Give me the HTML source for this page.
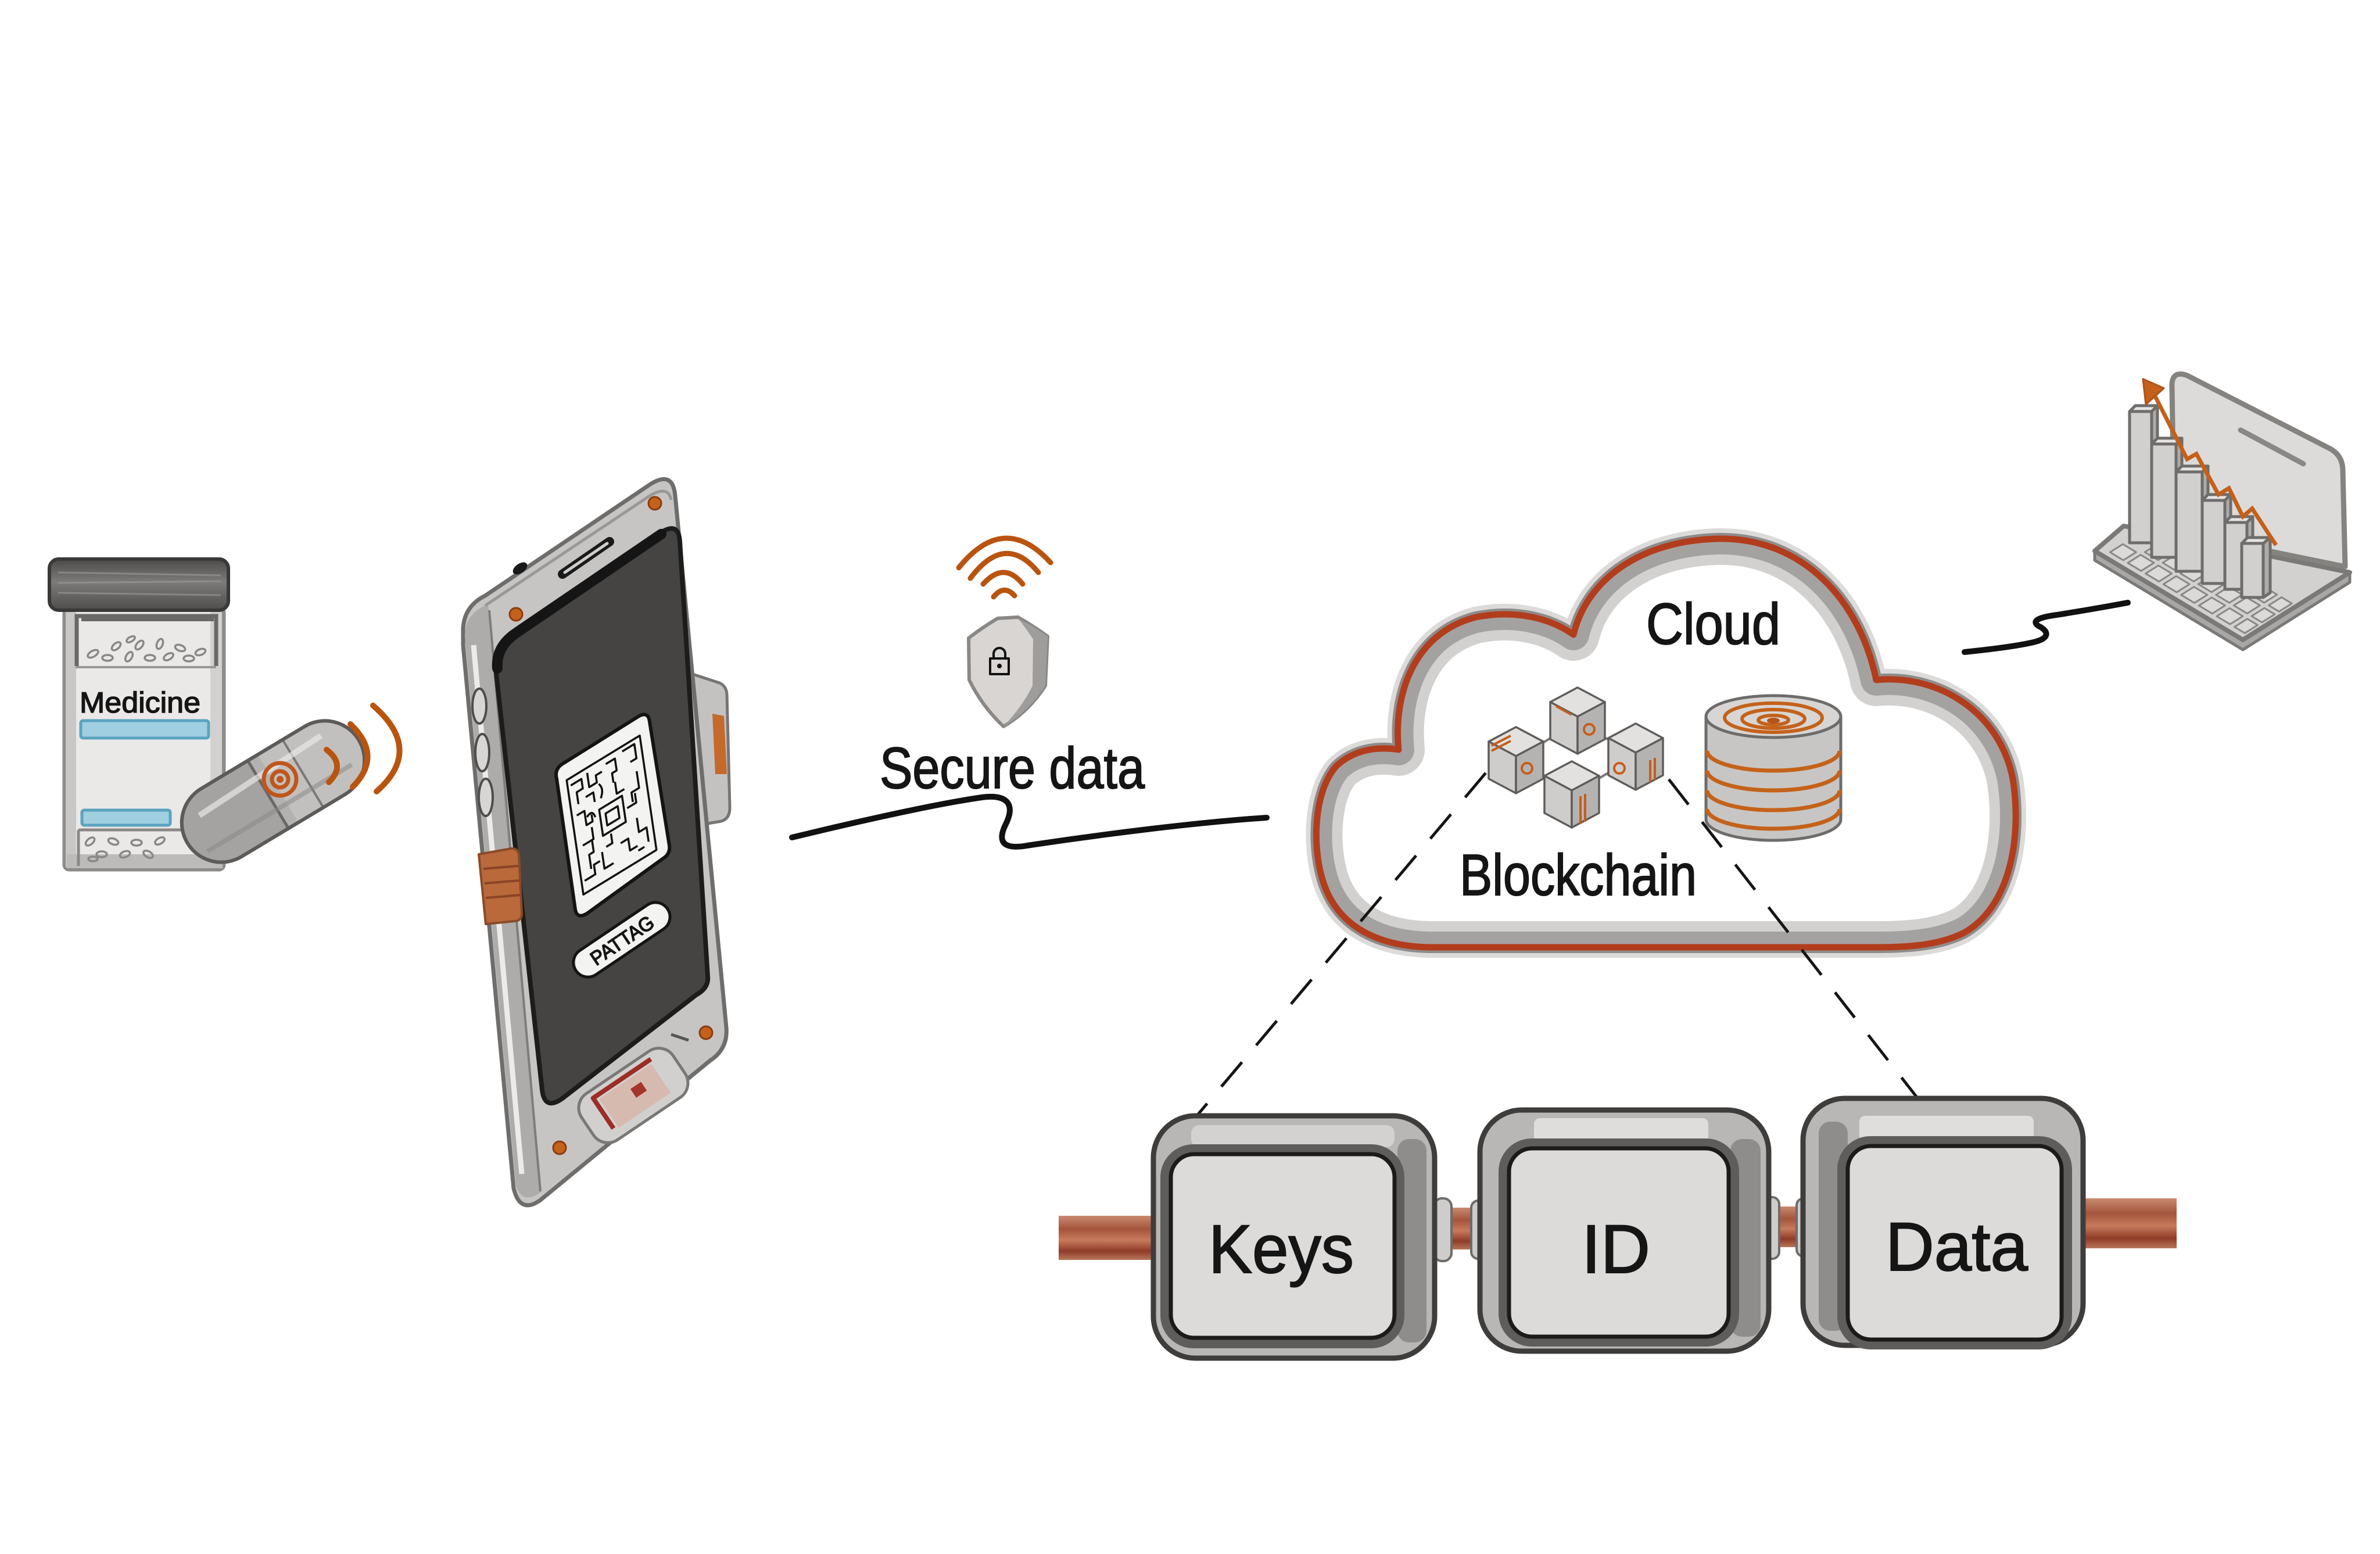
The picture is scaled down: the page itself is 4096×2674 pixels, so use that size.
<!DOCTYPE html>
<html>
<head>
<meta charset="utf-8">
<style>
html,body{margin:0;padding:0;background:#ffffff;}
svg{display:block;}
.t{font-family:"Liberation Sans","DejaVu Sans",sans-serif;fill:#151515;stroke:#151515;stroke-width:2px;}
</style>
</head>
<body>
<svg width="4096" height="2674" viewBox="0 0 4096 2674" xmlns="http://www.w3.org/2000/svg">
<defs>
  <linearGradient id="capg" x1="0" y1="0" x2="0" y2="1">
    <stop offset="0" stop-color="#4b4a49"/>
    <stop offset="0.45" stop-color="#7d7b79"/>
    <stop offset="1" stop-color="#4e4d4c"/>
  </linearGradient>
  <linearGradient id="rodg" x1="0" y1="0" x2="0" y2="1">
    <stop offset="0" stop-color="#c98a70"/>
    <stop offset="0.3" stop-color="#a4553c"/>
    <stop offset="0.55" stop-color="#c77a5c"/>
    <stop offset="0.8" stop-color="#8f3b28"/>
    <stop offset="1" stop-color="#b8765c"/>
  </linearGradient>
  <clipPath id="cloudclip">
    <path d="M 2458,1630 C 2380,1628 2300,1600 2275,1510 C 2258,1450 2262,1360 2300,1318 C 2330,1290 2370,1284 2407,1290 C 2398,1200 2430,1090 2540,1062 C 2610,1048 2670,1065 2708,1092 C 2730,1000 2820,930 2958,927 C 3100,925 3200,1030 3229,1170 C 3330,1160 3440,1220 3464,1340 C 3480,1440 3460,1560 3380,1605 C 3340,1625 3290,1630 3233,1630 Z"/>
  </clipPath>
</defs>

<rect width="4096" height="2674" fill="#ffffff"/>

<!-- ============ MEDICINE BOTTLE ============ -->
<g>
  <rect x="111" y="1046" width="274" height="450" rx="8" fill="#ebe9e7" stroke="#8e8c8a" stroke-width="7"/>
  <rect x="113" y="1050" width="18" height="442" fill="#c9c7c5"/>
  <rect x="362" y="1050" width="20" height="442" fill="#d3d1cf"/>
  <rect x="115" y="1470" width="268" height="24" fill="#bdbbb9"/>
  <path d="M 132,1146 L 132,1060 L 372,1060 L 372,1146" fill="none" stroke="#6a6866" stroke-width="7"/>
  <line x1="140" y1="1064" x2="368" y2="1064" stroke="#6a6866" stroke-width="10"/>
  <g fill="none" stroke="#8a8886" stroke-width="3.5">
    <ellipse cx="160" cy="1125" rx="10" ry="5" transform="rotate(-30 160 1125)"/>
    <ellipse cx="185" cy="1132" rx="9" ry="5"/>
    <ellipse cx="200" cy="1112" rx="9" ry="5" transform="rotate(-40 200 1112)"/>
    <ellipse cx="222" cy="1130" rx="9" ry="5" transform="rotate(-60 222 1130)"/>
    <ellipse cx="240" cy="1110" rx="9" ry="5" transform="rotate(-50 240 1110)"/>
    <ellipse cx="258" cy="1132" rx="9" ry="5"/>
    <ellipse cx="275" cy="1108" rx="9" ry="5" transform="rotate(-70 275 1108)"/>
    <ellipse cx="290" cy="1130" rx="9" ry="5" transform="rotate(-30 290 1130)"/>
    <ellipse cx="310" cy="1115" rx="9" ry="5" transform="rotate(20 310 1115)"/>
    <ellipse cx="325" cy="1133" rx="9" ry="5"/>
    <ellipse cx="345" cy="1122" rx="9" ry="5" transform="rotate(-20 345 1122)"/>
    <ellipse cx="225" cy="1100" rx="8" ry="4" transform="rotate(-30 225 1100)"/>
  </g>
  <line x1="130" y1="1148" x2="372" y2="1148" stroke="#9a9896" stroke-width="4"/>
  <rect x="85" y="962" width="308" height="88" rx="16" fill="url(#capg)" stroke="#3a3938" stroke-width="6"/>
  <g stroke="#9d9b99" stroke-width="3" opacity="0.6">
    <line x1="100" y1="985" x2="380" y2="990"/>
    <line x1="100" y1="1003" x2="380" y2="1000"/>
    <line x1="100" y1="1020" x2="380" y2="1024"/>
  </g>
  <text x="137" y="1226" font-size="50" textLength="208" lengthAdjust="spacingAndGlyphs" class="t" style="stroke-width:1.5px">Medicine</text>
  <rect x="139" y="1240" width="220" height="30" rx="4" fill="#9fcfe0" stroke="#5aa3c0" stroke-width="5"/>
  <rect x="141" y="1394" width="152" height="26" rx="4" fill="#9fcfe0" stroke="#5aa3c0" stroke-width="5"/>
  <path d="M 135,1428 L 135,1490 M 135,1428 L 320,1428" fill="none" stroke="#8a8886" stroke-width="5"/>
  <g fill="none" stroke="#8a8886" stroke-width="3.5">
    <ellipse cx="155" cy="1448" rx="9" ry="5" transform="rotate(-40 155 1448)"/>
    <ellipse cx="175" cy="1470" rx="9" ry="5"/>
    <ellipse cx="195" cy="1448" rx="9" ry="5" transform="rotate(20 195 1448)"/>
    <ellipse cx="215" cy="1470" rx="9" ry="5" transform="rotate(-20 215 1470)"/>
    <ellipse cx="235" cy="1450" rx="9" ry="5"/>
    <ellipse cx="255" cy="1470" rx="9" ry="5" transform="rotate(30 255 1470)"/>
    <ellipse cx="275" cy="1447" rx="9" ry="5" transform="rotate(-30 275 1447)"/>
    <ellipse cx="160" cy="1478" rx="8" ry="4"/>
  </g>
</g>

<!-- ============ PILL CAPSULE ============ -->
<g transform="translate(470,1362) rotate(-31)">
  <rect x="-172" y="-68" width="344" height="136" rx="68" fill="#b4b2b0" stroke="#5d5b59" stroke-width="6"/>
  <path d="M -10,-66 L -104,-66 A 66 66 0 0 0 -104,66 L -10,66 Z" fill="#a5a3a1"/>
  <path d="M 10,-66 L 104,-66 A 66 66 0 0 1 104,66 L 10,66 Z" fill="#c2c0be"/>
  <line x1="-10" y1="-66" x2="-10" y2="66" stroke="#6a6866" stroke-width="5"/>
  <line x1="60" y1="-66" x2="60" y2="66" stroke="#7a7876" stroke-width="4"/>
  <path d="M -130,-30 L 120,-40" stroke="#e9e8e6" stroke-width="10" opacity="0.7"/>
  <path d="M -150,30 L 140,30" stroke="#8a8886" stroke-width="8" opacity="0.5"/>
  <rect x="-172" y="-68" width="344" height="136" rx="68" fill="none" stroke="#5d5b59" stroke-width="6"/>
</g>
<g fill="none" stroke="#c0561a" stroke-width="7" stroke-linecap="round">
  <circle cx="482" cy="1341" r="28"/>
  <circle cx="482" cy="1341" r="14"/>
</g>
<circle cx="482" cy="1341" r="6" fill="#c0561a"/>
<g fill="none" stroke="#b9540f" stroke-width="10" stroke-linecap="round">
  <path d="M 562,1290 Q 596,1316 566,1346"/>
  <path d="M 603,1246 Q 660,1300 607,1354"/>
  <path d="M 642,1214 Q 730,1290 648,1362"/>
</g>

<!-- ============ PHONE ============ -->
<g stroke-linejoin="round">
  <path d="M 1192,1160 L 1238,1175 Q 1250,1180 1251,1195 L 1256,1390 Q 1256,1412 1236,1414 L 1212,1418 Z" fill="#c4c2c0" stroke="#777573" stroke-width="5"/>
  <path d="M 1226,1228 L 1246,1232 L 1251,1332 L 1231,1332 Z" fill="#c5692d"/>
  <path d="M 797,1090 Q 795,1045 835,1025 L 1118,834 Q 1158,808 1162,853 L 1250,1768 Q 1253,1805 1222,1825 L 930,2065 Q 895,2090 884,2045 L 797,1110 Z" fill="#c7c5c3" stroke="#6f6d6b" stroke-width="7"/>
  <path d="M 800,1095 Q 800,1055 840,1040 L 932,2050 Q 900,2075 888,2040 Z" fill="#aeacaa"/>
  <line x1="815" y1="1110" x2="898" y2="2020" stroke="#ecebe9" stroke-width="9"/>
  <line x1="842" y1="1050" x2="930" y2="2050" stroke="#7f7d7b" stroke-width="4"/>
  <path d="M 835,1042 L 1120,852 Q 1150,835 1155,860" fill="none" stroke="#9a9896" stroke-width="5"/>
  <path d="M 853,1150 Q 850,1110 890,1085 L 1138,916 Q 1168,897 1170,932 L 1218,1680 Q 1220,1700 1198,1712 L 968,1890 Q 937,1912 933,1875 Z" fill="#464442" stroke="#1c1c1c" stroke-width="8"/>
  <path d="M 856,1150 Q 853,1112 890,1088 L 1138,919" fill="none" stroke="#151515" stroke-width="18" stroke-linecap="round"/>
  <line x1="968" y1="988" x2="1049" y2="932" stroke="#1a1a1a" stroke-width="16" stroke-linecap="round"/>
  <line x1="972" y1="985" x2="1045" y2="935" stroke="#d0cecc" stroke-width="5" stroke-linecap="round"/>
  <ellipse cx="895" cy="978" rx="14" ry="8" transform="rotate(-35 895 978)" fill="#1a1a1a"/>
  <g fill="#c4621c" stroke="#8a3c10" stroke-width="3">
    <circle cx="1127" cy="866" r="11"/>
    <circle cx="888" cy="1057" r="11"/>
    <circle cx="1215" cy="1777" r="11"/>
    <circle cx="963" cy="1975" r="11"/>
  </g>
  <g fill="#d8d6d4" stroke="#4f4d4b" stroke-width="4">
    <ellipse cx="825" cy="1215" rx="12" ry="30"/>
    <ellipse cx="830" cy="1295" rx="12" ry="32"/>
    <ellipse cx="836" cy="1372" rx="12" ry="32"/>
  </g>
  <path d="M 824,1470 L 880,1460 Q 892,1460 893,1472 L 898,1572 Q 898,1584 886,1585 L 836,1590 Z" fill="#b9693a" stroke="#8a4a28" stroke-width="4"/>
  <g stroke="#8a4424" stroke-width="4">
    <line x1="832" y1="1495" x2="892" y2="1490"/>
    <line x1="834" y1="1520" x2="894" y2="1515"/>
    <line x1="836" y1="1545" x2="896" y2="1540"/>
  </g>
  <path d="M 958,1340 Q 953,1322 972,1312 L 1100,1232 Q 1116,1224 1118,1242 L 1152,1455 Q 1154,1470 1140,1478 L 1010,1572 Q 993,1582 990,1565 Z" fill="#f3f3f1" stroke="#141414" stroke-width="6"/>
  <g transform="matrix(1.31,-0.80,0.30,2.05,972,1340)" fill="none" stroke="#111" stroke-width="3.5">
    <rect x="2" y="2" width="96" height="96" vector-effect="non-scaling-stroke"/>
    <path vector-effect="non-scaling-stroke" d="M6,8 h14 v8 h-8 v10 M28,6 v12 h10 v-6 h8 M52,8 h12 v10 h-6 v8 M74,6 h16 v12 h-8 M8,34 h10 v12 h8 v-6 M88,28 v14 h-10 v8 M10,60 h12 v10 h-6 v12 M6,88 h14 v-8 h8 M32,74 v14 h12 M56,76 h10 v10 h10 M80,64 v12 h10 v12 M22,24 h10 v8 M60,26 v10 h10 M70,52 h12 v-8 M24,50 v10 h-8 M40,20 q6,6 0,12 M84,90 h-8 M46,64 v8 h-8 M20,40 q8,-4 10,4"/>
    <rect x="36" y="40" width="30" height="22" vector-effect="non-scaling-stroke"/>
    <rect x="43" y="46" width="16" height="10" vector-effect="non-scaling-stroke"/>
  </g>
  <g transform="translate(1070,1617) rotate(-34)">
    <rect x="-95" y="-25" width="190" height="50" rx="25" fill="#f3f3f1" stroke="#141414" stroke-width="5"/>
    <text x="-62" y="13" font-size="34" textLength="124" lengthAdjust="spacingAndGlyphs" class="t" style="stroke-width:1.5px">PATTAG</text>
  </g>
  <g transform="translate(1090,1885) rotate(-34)">
    <rect x="-95" y="-48" width="190" height="96" rx="30" fill="#d2d0ce" stroke="#7a7876" stroke-width="5"/>
    <path d="M 60,-35 L -60,-35 L -60,28" fill="none" stroke="#9c2e26" stroke-width="8"/>
    <rect x="-52" y="-28" width="108" height="60" fill="#d9a898" opacity="0.55"/>
    <rect x="2" y="-12" width="22" height="18" fill="#a3352a"/>
  </g>
  <line x1="1155" y1="1780" x2="1185" y2="1790" stroke="#555" stroke-width="5"/>
</g>

<!-- ============ SECURE DATA ============ -->
<g fill="none" stroke="#b9540f" stroke-width="9" stroke-linecap="round">
  <path d="M 1650,977 Q 1728,880 1808,968"/>
  <path d="M 1670,995 Q 1730,915 1787,985"/>
  <path d="M 1692,1005 Q 1728,965 1760,1005"/>
  <path d="M 1710,1027 Q 1728,1005 1746,1025"/>
</g>
<g stroke-linejoin="round">
  <path d="M 1667,1098 Q 1690,1080 1717,1064 L 1752,1062 Q 1780,1078 1803,1095 L 1799,1180 Q 1770,1225 1727,1250 Q 1690,1215 1668,1170 Z" fill="#d8d5d2" stroke="#8a8886" stroke-width="6"/>
  <path d="M 1752,1064 Q 1780,1078 1803,1095 L 1799,1180 Q 1770,1225 1727,1250 Q 1760,1215 1777,1180 L 1778,1100 Q 1765,1080 1752,1064 Z" fill="#9f9d9b"/>
  <rect x="1704" y="1133" width="32" height="27" fill="none" stroke="#111" stroke-width="4"/>
  <path d="M 1710,1133 v-8 a 10 10 0 0 1 20 0 v8" fill="none" stroke="#111" stroke-width="4"/>
  <circle cx="1720" cy="1146" r="4" fill="#111"/>
</g>
<text x="1514" y="1356" font-size="100" textLength="456" lengthAdjust="spacingAndGlyphs" class="t">Secure data</text>
<path d="M 1363,1441 C 1450,1420 1600,1385 1690,1372 C 1735,1366 1748,1385 1730,1420 C 1716,1450 1728,1462 1768,1455 C 1900,1435 2060,1415 2180,1407" fill="none" stroke="#111" stroke-width="10" stroke-linecap="round"/>

<!-- ============ CLOUD ============ -->
<g>
  <path d="M 2458,1630 C 2380,1628 2300,1600 2275,1510 C 2258,1450 2262,1360 2300,1318 C 2330,1290 2370,1284 2407,1290 C 2398,1200 2430,1090 2540,1062 C 2610,1048 2670,1065 2708,1092 C 2730,1000 2820,930 2958,927 C 3100,925 3200,1030 3229,1170 C 3330,1160 3440,1220 3464,1340 C 3480,1440 3460,1560 3380,1605 C 3340,1625 3290,1630 3233,1630 Z" fill="#ffffff" stroke="#dddbd9" stroke-width="36" stroke-linejoin="round"/>
  <path d="M 2458,1630 C 2380,1628 2300,1600 2275,1510 C 2258,1450 2262,1360 2300,1318 C 2330,1290 2370,1284 2407,1290 C 2398,1200 2430,1090 2540,1062 C 2610,1048 2670,1065 2708,1092 C 2730,1000 2820,930 2958,927 C 3100,925 3200,1030 3229,1170 C 3330,1160 3440,1220 3464,1340 C 3480,1440 3460,1560 3380,1605 C 3340,1625 3290,1630 3233,1630 Z" fill="none" stroke="#8e8c8a" stroke-width="20" stroke-linejoin="round"/>
  <g clip-path="url(#cloudclip)">
    <path d="M 2458,1630 C 2380,1628 2300,1600 2275,1510 C 2258,1450 2262,1360 2300,1318 C 2330,1290 2370,1284 2407,1290 C 2398,1200 2430,1090 2540,1062 C 2610,1048 2670,1065 2708,1092 C 2730,1000 2820,930 2958,927 C 3100,925 3200,1030 3229,1170 C 3330,1160 3440,1220 3464,1340 C 3480,1440 3460,1560 3380,1605 C 3340,1625 3290,1630 3233,1630 Z" fill="none" stroke="#d3d1cf" stroke-width="90" stroke-linejoin="round"/>
    <path d="M 2458,1630 C 2380,1628 2300,1600 2275,1510 C 2258,1450 2262,1360 2300,1318 C 2330,1290 2370,1284 2407,1290 C 2398,1200 2430,1090 2540,1062 C 2610,1048 2670,1065 2708,1092 C 2730,1000 2820,930 2958,927 C 3100,925 3200,1030 3229,1170 C 3330,1160 3440,1220 3464,1340 C 3480,1440 3460,1560 3380,1605 C 3340,1625 3290,1630 3233,1630 Z" fill="none" stroke="#a4a2a0" stroke-width="54" stroke-linejoin="round"/>
  </g>
  <path d="M 2458,1630 C 2380,1628 2300,1600 2275,1510 C 2258,1450 2262,1360 2300,1318 C 2330,1290 2370,1284 2407,1290 C 2398,1200 2430,1090 2540,1062 C 2610,1048 2670,1065 2708,1092 C 2730,1000 2820,930 2958,927 C 3100,925 3200,1030 3229,1170 C 3330,1160 3440,1220 3464,1340 C 3480,1440 3460,1560 3380,1605 C 3340,1625 3290,1630 3233,1630 Z" fill="none" stroke="#b23d1d" stroke-width="11" stroke-linejoin="round"/>
</g>
<text x="2833" y="1108" font-size="100" textLength="231" lengthAdjust="spacingAndGlyphs" class="t">Cloud</text>
<text x="2512" y="1540" font-size="100" textLength="408" lengthAdjust="spacingAndGlyphs" class="t">Blockchain</text>

<!-- blockchain cubes -->
<g stroke="#7a7876" stroke-width="4">
  <line x1="2715" y1="1240" x2="2609" y2="1308"/>
  <line x1="2715" y1="1240" x2="2815" y2="1302"/>
  <line x1="2609" y1="1308" x2="2705" y2="1367"/>
  <line x1="2815" y1="1302" x2="2705" y2="1367"/>
</g>
<g stroke="#5f5d5b" stroke-width="3.5" stroke-linejoin="round">
  <polygon points="2715,1183 2762,1208 2715,1233 2668,1208" fill="#e3e1df"/>
  <polygon points="2668,1208 2715,1233 2715,1297 2668,1272" fill="#cfcdcb"/>
  <polygon points="2715,1233 2762,1208 2762,1272 2715,1297" fill="#b5b3b1"/>
  <polygon points="2609,1251 2656,1276 2609,1301 2562,1276" fill="#e3e1df"/>
  <polygon points="2562,1276 2609,1301 2609,1365 2562,1340" fill="#cfcdcb"/>
  <polygon points="2609,1301 2656,1276 2656,1340 2609,1365" fill="#b5b3b1"/>
  <polygon points="2815,1245 2862,1270 2815,1295 2768,1270" fill="#e3e1df"/>
  <polygon points="2768,1270 2815,1295 2815,1359 2768,1334" fill="#cfcdcb"/>
  <polygon points="2815,1295 2862,1270 2862,1334 2815,1359" fill="#b5b3b1"/>
  <polygon points="2705,1310 2752,1335 2705,1360 2658,1335" fill="#e3e1df"/>
  <polygon points="2658,1335 2705,1360 2705,1424 2658,1399" fill="#cfcdcb"/>
  <polygon points="2705,1360 2752,1335 2752,1399 2705,1424" fill="#b5b3b1"/>
</g>
<g fill="none" stroke="#c65d1a" stroke-width="4">
  <circle cx="2628" cy="1322" r="9"/>
  <circle cx="2735" cy="1255" r="9"/>
  <circle cx="2787" cy="1322" r="9"/>
  <line x1="2567" y1="1283" x2="2600" y2="1266"/>
  <line x1="2567" y1="1292" x2="2600" y2="1275"/>
  <line x1="2840" y1="1308" x2="2840" y2="1346"/>
  <line x1="2848" y1="1304" x2="2848" y2="1342"/>
  <line x1="2720" y1="1370" x2="2720" y2="1418"/>
  <line x1="2728" y1="1366" x2="2728" y2="1414"/>
  <line x1="2678" y1="1215" x2="2705" y2="1230"/>
</g>

<!-- database cylinder -->
<g stroke-linejoin="round">
  <path d="M 2936,1233 L 2936,1410 A 116 36 0 0 0 3168,1410 L 3168,1233 Z" fill="#c8c6c4" stroke="#6e6c6a" stroke-width="5"/>
  <ellipse cx="3052" cy="1233" rx="116" ry="36" fill="#d8d6d4" stroke="#6e6c6a" stroke-width="5"/>
  <g fill="none" stroke="#c4621a" stroke-width="6">
    <ellipse cx="3052" cy="1235" rx="84" ry="25"/>
    <ellipse cx="3052" cy="1237" rx="54" ry="16"/>
    <ellipse cx="3052" cy="1239" rx="26" ry="8"/>
  </g>
  <ellipse cx="3052" cy="1240" rx="11" ry="5" fill="#b5531a"/>
  <g fill="none" stroke="#c4621a" stroke-width="7">
    <path d="M 2938,1292 A 114 34 0 0 0 3166,1292"/>
    <path d="M 2938,1326 A 114 34 0 0 0 3166,1326"/>
    <path d="M 2938,1360 A 114 34 0 0 0 3166,1360"/>
    <path d="M 2938,1392 A 114 34 0 0 0 3166,1392"/>
  </g>
</g>

<!-- dashed lines -->
<g stroke="#151515" stroke-width="5" stroke-dasharray="55 38" fill="none">
  <line x1="2557" y1="1330" x2="2047" y2="1935"/>
  <line x1="2872" y1="1341" x2="3302" y2="1892"/>
</g>

<!-- ============ BLOCKS ============ -->
<rect x="1822" y="2092" width="180" height="76" fill="url(#rodg)"/>
<rect x="2455" y="2078" width="105" height="72" fill="url(#rodg)"/>
<rect x="3030" y="2076" width="90" height="70" fill="url(#rodg)"/>
<rect x="3570" y="2062" width="176" height="86" fill="url(#rodg)"/>
<g fill="#cfcdcb" stroke="#6e6c6a" stroke-width="4">
  <rect x="2468" y="2062" width="30" height="108" rx="14"/>
  <rect x="2532" y="2066" width="26" height="100" rx="12"/>
  <rect x="3036" y="2060" width="26" height="106" rx="12"/>
  <rect x="3092" y="2062" width="26" height="100" rx="12"/>
</g>

<g>
  <rect x="1985" y="1920" width="484" height="417" rx="72" fill="#b9b7b5" stroke="#3f3d3b" stroke-width="9"/>
  <rect x="2050" y="1936" width="350" height="38" rx="14" fill="#d4d2d0"/>
  <rect x="2405" y="1960" width="50" height="350" rx="20" fill="#8f8d8b"/>
  <rect x="2006" y="1978" width="402" height="333" rx="48" fill="none" stroke="#5f5d5b" stroke-width="18"/>
  <rect x="2015" y="1986" width="385" height="316" rx="40" fill="#dddbd9" stroke="#1d1b19" stroke-width="7"/>
  <text x="2080" y="2190" font-size="118" textLength="250" lengthAdjust="spacingAndGlyphs" class="t">Keys</text>
</g>
<g>
  <rect x="2547" y="1910" width="497" height="415" rx="72" fill="#b9b7b5" stroke="#3f3d3b" stroke-width="9"/>
  <rect x="2640" y="1924" width="300" height="42" rx="10" fill="#dfdddb"/>
  <rect x="2978" y="1960" width="52" height="340" rx="20" fill="#8f8d8b"/>
  <rect x="2588" y="1968" width="396" height="340" rx="48" fill="none" stroke="#5f5d5b" stroke-width="18"/>
  <rect x="2597" y="1976" width="378" height="324" rx="40" fill="#dddbd9" stroke="#1d1b19" stroke-width="7"/>
  <text x="2722" y="2190" font-size="118" textLength="118" lengthAdjust="spacingAndGlyphs" class="t">ID</text>
</g>
<g>
  <rect x="3103" y="1890" width="482" height="425" rx="72" fill="#b9b7b5" stroke="#3f3d3b" stroke-width="9"/>
  <rect x="3130" y="1930" width="50" height="360" rx="20" fill="#8f8d8b"/>
  <rect x="3200" y="1920" width="300" height="46" rx="10" fill="#e0dedc"/>
  <line x1="3200" y1="1966" x2="3500" y2="1966" stroke="#4f4d4b" stroke-width="10"/>
  <rect x="3171" y="1964" width="386" height="349" rx="48" fill="none" stroke="#5f5d5b" stroke-width="18"/>
  <rect x="3180" y="1972" width="368" height="333" rx="40" fill="#dddbd9" stroke="#1d1b19" stroke-width="7"/>
  <text x="3245" y="2186" font-size="118" textLength="245" lengthAdjust="spacingAndGlyphs" class="t">Data</text>
</g>

<!-- ============ LAPTOP ============ -->
<path d="M 3381,1122 C 3420,1118 3470,1112 3500,1105 C 3530,1098 3525,1085 3508,1077 C 3495,1068 3510,1062 3540,1058 C 3590,1050 3630,1043 3662,1037" fill="none" stroke="#111" stroke-width="10" stroke-linecap="round"/>
<g stroke-linejoin="round">
  <polygon points="3605,948 3860,1101 4044,985 4044,1002 3860,1118 3605,964" fill="#a9a7a5" stroke="#7b7977" stroke-width="5"/>
  <polygon points="3605,948 3860,1101 4044,985 3655,905" fill="#d3d1cf" stroke="#7b7977" stroke-width="8"/>
  <path d="M 3738,668 Q 3736,636 3764,646 L 4010,772 Q 4032,784 4032,810 L 4036,975 L 3742,915 Z" fill="#dddbd9" stroke="#85837f" stroke-width="9"/>
  <line x1="3856" y1="740" x2="3964" y2="798" stroke="#8a8886" stroke-width="9" stroke-linecap="round"/>
  <g transform="matrix(2.55,1.53,1.84,-1.16,3605,948)" fill="#dcdad8" stroke="#8a8886" stroke-width="3">
    <rect x="6" y="6" width="9" height="12" vector-effect="non-scaling-stroke"/>
    <rect x="18" y="6" width="9" height="12" vector-effect="non-scaling-stroke"/>
    <rect x="30" y="6" width="9" height="12" vector-effect="non-scaling-stroke"/>
    <rect x="42" y="6" width="9" height="12" vector-effect="non-scaling-stroke"/>
    <rect x="54" y="6" width="9" height="12" vector-effect="non-scaling-stroke"/>
    <rect x="66" y="6" width="9" height="12" vector-effect="non-scaling-stroke"/>
    <rect x="78" y="6" width="9" height="12" vector-effect="non-scaling-stroke"/>
    <rect x="90" y="6" width="7" height="12" vector-effect="non-scaling-stroke"/>
    <rect x="18" y="22" width="9" height="12" vector-effect="non-scaling-stroke"/>
    <rect x="30" y="22" width="9" height="12" vector-effect="non-scaling-stroke"/>
    <rect x="42" y="22" width="9" height="12" vector-effect="non-scaling-stroke"/>
    <rect x="54" y="22" width="9" height="12" vector-effect="non-scaling-stroke"/>
    <rect x="66" y="22" width="9" height="12" vector-effect="non-scaling-stroke"/>
    <rect x="78" y="22" width="9" height="12" vector-effect="non-scaling-stroke"/>
    <rect x="90" y="22" width="7" height="12" vector-effect="non-scaling-stroke"/>
    <rect x="78" y="38" width="9" height="12" vector-effect="non-scaling-stroke"/>
    <rect x="90" y="38" width="7" height="12" vector-effect="non-scaling-stroke"/>
  </g>
  <g stroke="#6f6d6b" stroke-width="5">
    <polygon points="3703,708 3713,698 3713,926 3703,934" fill="#aeacaa"/>
    <rect x="3665" y="708" width="38" height="226" fill="#d2d0ce"/>
    <polygon points="3665,708 3675,698 3713,698 3703,708" fill="#e6e4e2"/>

    <polygon points="3745,764 3755,754 3755,950 3745,959" fill="#aeacaa"/>
    <rect x="3703" y="764" width="42" height="195" fill="#d2d0ce"/>
    <polygon points="3703,764 3713,754 3755,754 3745,764" fill="#e6e4e2"/>

    <polygon points="3790,812 3800,802 3800,975 3790,983" fill="#aeacaa"/>
    <rect x="3745" y="812" width="45" height="171" fill="#d2d0ce"/>
    <polygon points="3745,812 3755,802 3800,802 3790,812" fill="#e6e4e2"/>

    <polygon points="3829,861 3839,851 3839,996 3829,1004" fill="#aeacaa"/>
    <rect x="3790" y="861" width="39" height="143" fill="#d2d0ce"/>
    <polygon points="3790,861 3800,851 3839,851 3829,861" fill="#e6e4e2"/>

    <polygon points="3867,899 3877,889 3877,1006 3867,1014" fill="#aeacaa"/>
    <rect x="3829" y="899" width="38" height="115" fill="#d2d0ce"/>
    <polygon points="3829,899 3839,889 3877,889 3867,899" fill="#e6e4e2"/>

    <polygon points="3895,935 3907,925 3907,1020 3895,1028" fill="#aeacaa"/>
    <rect x="3858" y="935" width="37" height="93" fill="#d2d0ce"/>
    <polygon points="3858,935 3868,925 3907,925 3895,935" fill="#e6e4e2"/>
  </g>
  <polyline points="3917,938 3876,875 3860,889 3836,840 3818,851 3780,781 3764,790 3706,676" fill="none" stroke="#c4601a" stroke-width="7" stroke-linejoin="miter"/>
  <polygon points="3688,652 3693,696 3724,668" fill="#c4601a" stroke="#b0521a" stroke-width="3"/>
</g>
</svg>
</body>
</html>
